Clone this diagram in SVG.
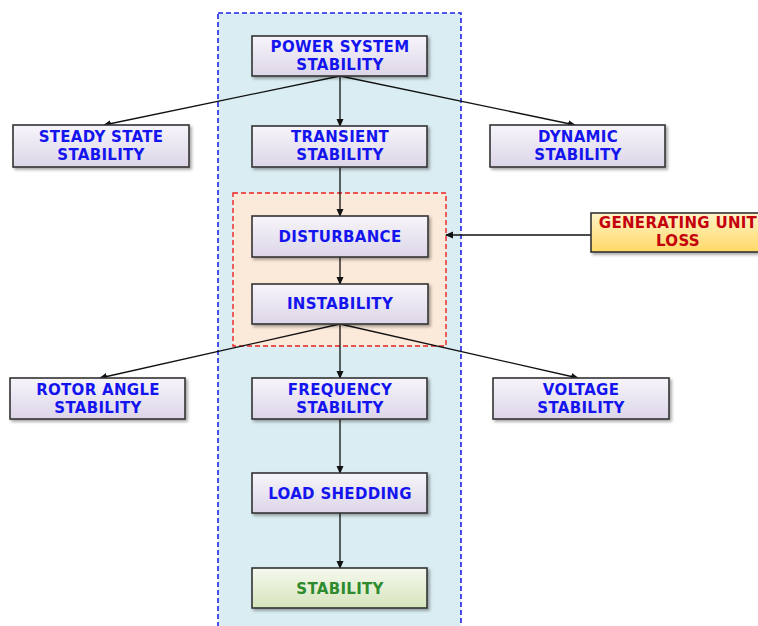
<svg xmlns="http://www.w3.org/2000/svg" width="758" height="626" viewBox="0 0 758 626">
<defs>
<linearGradient id="gp" x1="0" y1="0" x2="0" y2="1"><stop offset="0" stop-color="#f7f5fa"/><stop offset="1" stop-color="#dcd5e8"/></linearGradient>
<linearGradient id="gy" x1="0" y1="0" x2="0" y2="1"><stop offset="0" stop-color="#fff4c8"/><stop offset="1" stop-color="#ffd866"/></linearGradient>
<linearGradient id="gg" x1="0" y1="0" x2="0" y2="1"><stop offset="0" stop-color="#f5f9ee"/><stop offset="1" stop-color="#d6e4bc"/></linearGradient>
<filter id="sh" x="-10%" y="-20%" width="130%" height="160%"><feDropShadow dx="2" dy="2" stdDeviation="1.5" flood-color="#000" flood-opacity="0.35"/></filter>
<marker id="ar" markerWidth="8" markerHeight="8" refX="7" refY="4" orient="auto" markerUnits="userSpaceOnUse"><path d="M0,0.5 L8,4 L0,7.5 Z" fill="#111"/></marker>
</defs>
<style>
.box{stroke:#333;stroke-width:1.6;filter:url(#sh)}
.p{fill:url(#gp)}
.t{font-family:"DejaVu Sans","Open Sans",sans-serif;font-weight:bold;font-size:15px;letter-spacing:0.3px;text-anchor:middle;fill:#1414ee}
.c{stroke:#111;stroke-width:1.3;fill:none;marker-end:url(#ar)}
</style>
<rect width="758" height="626" fill="#fff"/>
<g id="main-region"><rect x="218" y="13" width="243" height="620" fill="#daedf3" stroke="#2323e6" stroke-width="1.6" stroke-dasharray="5,3"/></g>
<g id="transient-region"><rect x="233" y="193" width="213" height="153" fill="#fbe9da" stroke="#ee2222" stroke-width="1.4" stroke-dasharray="5,3"/></g>
<g id="connectors">
<line class="c" x1="340" y1="76" x2="340" y2="126"/>
<line class="c" x1="340" y1="76" x2="104" y2="125"/>
<line class="c" x1="340" y1="76" x2="575" y2="125"/>
<line class="c" x1="340" y1="167" x2="340" y2="216"/>
<line class="c" x1="340" y1="257" x2="340" y2="284"/>
<line class="c" x1="591" y1="235" x2="446" y2="235"/>
<line class="c" x1="340" y1="324" x2="340" y2="378"/>
<line class="c" x1="340" y1="324" x2="100" y2="378"/>
<line class="c" x1="340" y1="324" x2="578" y2="378"/>
<line class="c" x1="340" y1="419" x2="340" y2="473"/>
<line class="c" x1="340" y1="513" x2="340" y2="568"/>
</g>
<g id="power-system-stability"><rect class="box p" x="252" y="36" width="175" height="40"/><text class="t" x="340" y="52">POWER SYSTEM</text><text class="t" x="340" y="70">STABILITY</text></g>
<g id="steady-state-stability"><rect class="box p" x="13" y="125" width="176" height="42"/><text class="t" x="101" y="142">STEADY STATE</text><text class="t" x="101" y="160">STABILITY</text></g>
<g id="transient-stability"><rect class="box p" x="252" y="126" width="175" height="41"/><text class="t" x="340" y="142">TRANSIENT</text><text class="t" x="340" y="160">STABILITY</text></g>
<g id="dynamic-stability"><rect class="box p" x="490" y="125" width="175" height="42"/><text class="t" x="578" y="142">DYNAMIC</text><text class="t" x="578" y="160">STABILITY</text></g>
<g id="disturbance"><rect class="box p" x="252" y="216" width="176" height="41"/><text class="t" x="340" y="242">DISTURBANCE</text></g>
<g id="instability"><rect class="box p" x="252" y="284" width="176" height="40"/><text class="t" x="340" y="309">INSTABILITY</text></g>
<g id="generating-unit-loss"><rect class="box" x="591" y="213" width="175" height="39" fill="url(#gy)"/><text class="t" x="678" y="228" style="fill:#c4000c">GENERATING UNIT</text><text class="t" x="678" y="246" style="fill:#c4000c">LOSS</text></g>
<g id="rotor-angle-stability"><rect class="box p" x="10" y="378" width="175" height="41"/><text class="t" x="98" y="395">ROTOR ANGLE</text><text class="t" x="98" y="413">STABILITY</text></g>
<g id="frequency-stability"><rect class="box p" x="252" y="378" width="175" height="41"/><text class="t" x="340" y="395">FREQUENCY</text><text class="t" x="340" y="413">STABILITY</text></g>
<g id="voltage-stability"><rect class="box p" x="493" y="378" width="176" height="41"/><text class="t" x="581" y="395">VOLTAGE</text><text class="t" x="581" y="413">STABILITY</text></g>
<g id="load-shedding"><rect class="box p" x="252" y="473" width="175" height="40"/><text class="t" x="340" y="499">LOAD SHEDDING</text></g>
<g id="stability"><rect class="box" x="252" y="568" width="175" height="40" fill="url(#gg)"/><text class="t" x="340" y="594" style="fill:#2e8b2e">STABILITY</text></g>
</svg>
